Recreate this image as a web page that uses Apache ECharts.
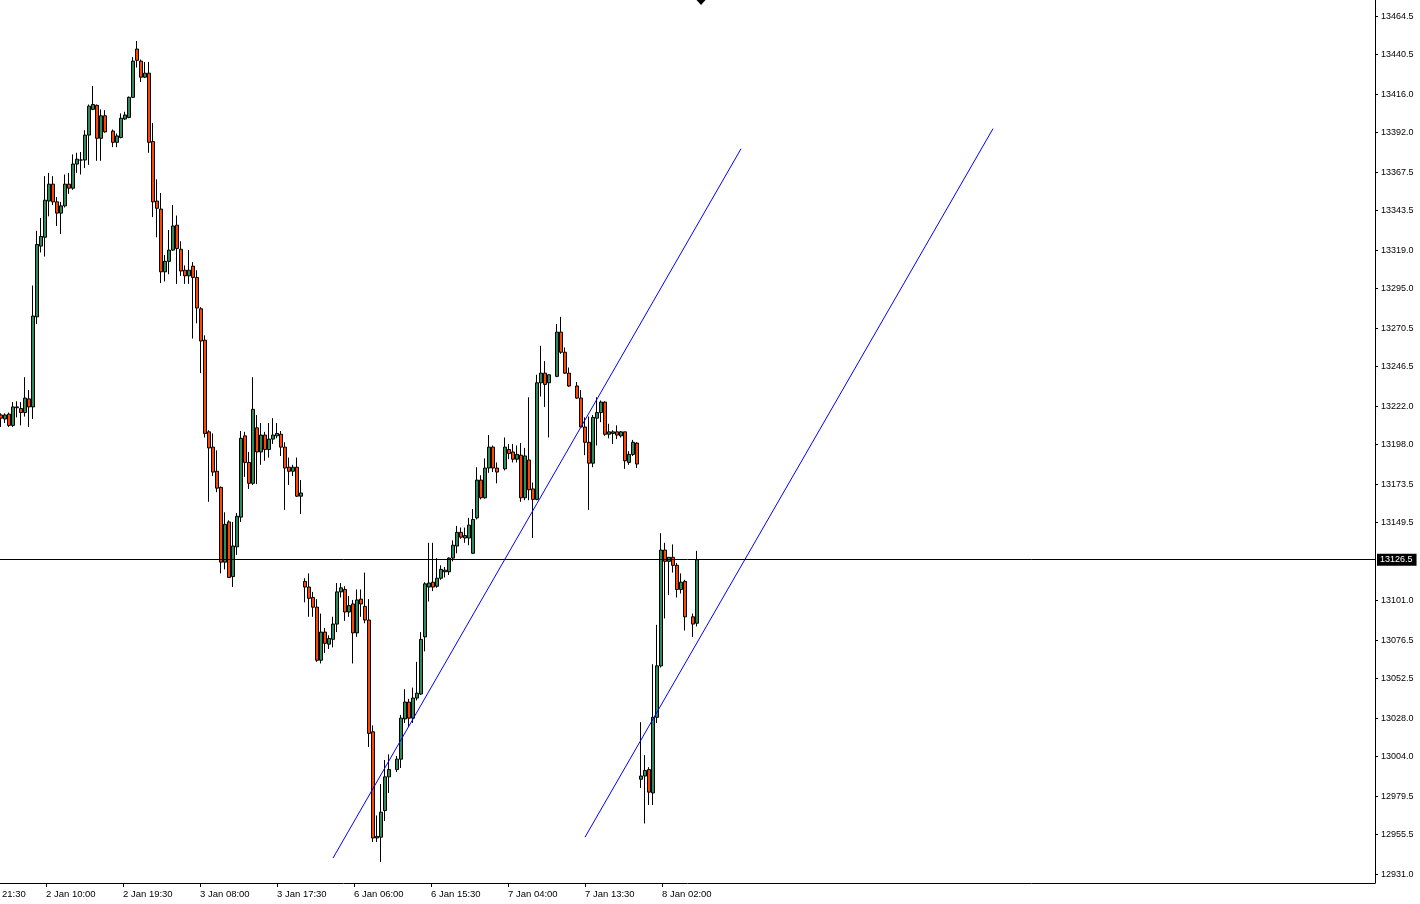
<!DOCTYPE html>
<html><head><meta charset="utf-8">
<script src="https://cdn.jsdelivr.net/npm/echarts@6/dist/echarts.min.js"></script>
<style>html,body{margin:0;padding:0;background:#fff}#c{width:1420px;height:904px}</style>
</head><body><div id="c"></div>
<script>
// OHLC bars: [open, close, low, high]
const candlesWeek1 = [
[13216.5,13214.5,13209,13217.5],[13214,13216.5,13211.5,13217.5],[13217,13210,13209,13218],[13210,13221.5,13209,13224.5],
[13221.5,13221,13215,13225],[13220.5,13218,13210,13224.5],[13218,13227,13215.5,13240],[13226.5,13221.5,13209,13232],
[13221.5,13278,13214,13297],[13277.5,13322.5,13273,13331],[13321.5,13327.5,13317.5,13339],[13327,13350,13315,13365],
[13349.5,13360,13340,13367],[13360,13349,13347,13365],[13349,13342,13334,13352],[13342,13346.5,13329,13349],
[13346.5,13360,13345.5,13366],[13360,13357.5,13354,13367],[13357.5,13372.5,13356.5,13378.5],[13372.5,13375.5,13367,13379.5],
[13375,13375,13366,13380],[13375,13390.5,13370,13393.5],[13390.5,13408.5,13372,13409.5],[13406.5,13409.5,13406,13421],
[13409,13388.5,13374.5,13409.5],[13388.5,13402.5,13374.5,13406.5],[13402.5,13392.5,13392,13406],[13393,13386,13383,13394],
[13386,13390,13383,13391.5],[13389,13401,13388.5,13404],[13400.5,13403,13400,13405],[13401.5,13414,13401,13414.5],
[13414,13436.5,13413.5,13439],[13444,13437,13432.5,13449],[13436.5,13426.5,13423.5,13437.5],[13426.5,13429,13426,13436],
[13429,13386,13379.5,13436],[13386.5,13349,13339.5,13398],[13349.5,13345,13327,13363],[13344.5,13305.5,13298.5,13354.5],
[13305.5,13312,13299.5,13316],[13312,13319,13304,13331.5],[13319,13334,13318.5,13347],[13334.5,13320,13298,13340.5],
[13319.5,13306,13303,13324.5],[13306.5,13303,13298,13309.5],[13303,13306.5,13298,13319],[13309,13302,13264,13311.5],
[13302,13283,13273.5,13306.5],[13282.5,13262.5,13242.5,13283.5],[13263,13205,13202.5,13266],[13206,13196,13162.5,13207],
[13196.5,13181,13178.5,13205],[13181.5,13171,13168.5,13194.5],[13171.5,13125,13118,13172],[13125,13148.5,13120.5,13156],
[13150,13115.5,13115.5,13151],[13116,13135,13109.5,13150],[13134.5,13153.5,13129.5,13155.5],[13153,13202,13150,13206.5],
[13203.5,13187,13178,13206],[13187,13174,13170.5,13193.5],[13174,13220,13173,13240],[13208.5,13193.5,13173.5,13216.5],
[13193.5,13204,13185.5,13211.5],[13204,13195,13188,13206],[13195,13201.5,13190,13211.5],[13201.5,13204,13198.5,13214.5],
[13203.5,13205,13202,13211.5],[13204.5,13196.5,13191,13206.5],[13196.5,13183.5,13157.5,13199.5],[13184,13181.5,13173,13190],
[13181.5,13184,13178.5,13185.5],[13184,13166,13165.5,13190],[13166,13168,13155,13176]
];
const candlesWeek2 = [
[13113,13109.5,13100,13115],[13109.5,13102.5,13091,13118],[13103,13097,13091,13106.5],[13097,13064,13063,13102],
[13064,13081.5,13062,13093],[13081.5,13074.5,13068.5,13084],[13074,13077.5,13071,13079.5],[13077,13086.5,13072,13091],
[13086.5,13106.5,13081.5,13112],[13106.5,13109,13103,13112],[13108,13094,13088.5,13110],[13094,13098,13091,13104],
[13099,13081,13062,13101.5],[13081,13101.5,13078.5,13108],[13102,13099,13091,13108],[13097.5,13089,13087,13118.5],
[13089,13018.5,13010,13102],[13019.5,12953.5,12951,13023.5],[12953.5,12954.5,12951,12967.5],[12954,12969.5,12938.5,12987],
[12970.5,12991.5,12964,13002],[12991.5,12996,12981.5,13005.5],[12996,13002.5,12994.5,13004.5],[13002.5,13028,12997,13030],
[13027.5,13038,13025,13046],[13038,13028,13022.5,13040],[13028,13040.5,13025,13047],[13040.5,13043.5,13039,13063],
[13043,13077,13042.5,13081.5],[13078.5,13111.5,13069.5,13112.5],[13109.5,13112,13100.5,13137],[13112.5,13109.5,13107,13137],
[13110,13115,13109,13127.5],[13115,13120.5,13114,13123],[13119,13120,13115.5,13122],[13119,13127.5,13117,13128],
[13127.5,13135.5,13125.5,13138.5],[13135,13143.5,13130.5,13147.5],[13143.5,13140.5,13139.5,13146.5],[13140,13141.5,13137,13146.5],
[13140,13148,13135.5,13152.5],[13130.5,13151.5,13130,13158],[13152.5,13176,13151.5,13184],[13176,13165,13164,13179],
[13165,13183.5,13164.5,13189.5],[13183.5,13196.5,13180.5,13204],[13196.5,13183.5,13181,13197.5],[13183.5,13181,13174,13187],
[13183,13196.5,13182,13202.5],[13195,13192.5,13189,13198.5],[13193.5,13189,13187,13198.5],[13189,13192,13187,13197.5],
[13191.5,13165,13162.5,13199],[13165,13191,13163.5,13196],[13188.5,13170,13163.5,13227.5],[13170.5,13164,13140,13174.5],
[13164,13236.5,13163.5,13241.5],[13236.5,13242.5,13228,13259.5],[13242.5,13235.5,13221.5,13250],[13236.5,13241.5,13202.5,13241.5],
[13240.5,13268,13240,13273],[13268,13255.5,13254.5,13277.5],[13255.5,13242.5,13242,13258.5],[13242.5,13234.5,13234,13246],
[13234.5,13227,13226.5,13237],[13227,13209,13208.5,13232],[13209,13199.5,13191.5,13215],[13199.5,13186.5,13157.5,13215.5],
[13186.5,13215,13184,13216.5],[13214.5,13218,13197.5,13227.5],[13218,13224.5,13212,13225.5],[13224.5,13204.5,13203.5,13225],
[13204.5,13206,13202,13211],[13205,13206,13198.5,13207],[13206,13204,13201.5,13210],[13203.5,13206,13202.5,13206.5],
[13206,13188,13183,13206],[13187,13192,13185.5,13194],[13192,13199.5,13191,13201],[13199,13186,13183.5,13199.5]
];
const candlesJan8 = [
[12990,12992,12984.5,13025.5],[12992,12995.5,12962.5,13005],[12996,12982,12974,12997.5],[12981.5,13028.5,12974,13061.5],
[13028.5,13060.5,13025,13086],[13060.5,13132.5,13059.5,13143],[13132.5,13125.5,13090,13137],[13125.5,13128,13104.5,13128],
[13128,13123,13118.5,13136],[13123,13108,13103,13124.5],[13108,13112.5,13105.5,13118],[13113,13091,13082.5,13114],
[13091,13086.5,13078.5,13093],[13087,13126.5,13085,13132]
];
// bar slots that hold no bar
const emptySlots = [27, 98, 125, 138, 143, 172];
// time axis labels (slot position, text)
const xTicks = [
  {slot: 11.25, text: '2 Jan 10:00'}, {slot: 30.5, text: '2 Jan 19:30'}, {slot: 49.75, text: '3 Jan 08:00'},
  {slot: 69, text: '3 Jan 17:30'}, {slot: 88.25, text: '6 Jan 06:00'}, {slot: 107.5, text: '6 Jan 15:30'},
  {slot: 126.75, text: '7 Jan 04:00'}, {slot: 146, text: '7 Jan 13:30'}, {slot: 165.25, text: '8 Jan 02:00'}
];
const cutLabel = '21:30';
const yTicks = [13464.5,13440.5,13416.0,13392.0,13367.5,13343.5,13319.0,13295.0,13270.5,13246.5,13222.0,13198.0,
  13173.5,13149.5,13101.0,13076.5,13052.5,13028.0,13004.0,12979.5,12955.5,12931.0];
const lastPrice = 13126.5;
const trendLines = [
  [[83, 12941], [185, 13382]],
  [[146, 12954], [248, 13394.5]]
];
const shiftSlot = 175;
const yMin = 12925.5, yMax = 13474.5;
const xMin = -0.25, xMax = 343.5;

const allBars = candlesWeek1.concat(candlesWeek2, candlesJan8);
const seriesData = [];
let s = 0;
allBars.forEach(b => { while (emptySlots.includes(s)) s++; seriesData.push([s, b[0], b[1], b[2], b[3]]); s++; });

const FONT = 'Liberation Sans';
const chart = echarts.init(document.getElementById('c'));
chart.setOption({
  animation: false,
  backgroundColor: '#ffffff',
  grid: {left: 0, right: 45, top: 0, bottom: 21},
  xAxis: {
    type: 'value', min: xMin, max: xMax,
    axisLine: {show: true, onZero: false, lineStyle: {color: '#000', width: 1}},
    axisTick: {show: true, customValues: xTicks.map(t => t.slot), length: 4, lineStyle: {color: '#000'}},
    axisLabel: {customValues: xTicks.map(t => t.slot), align: 'left', margin: 6, color: '#000',
      fontFamily: FONT, fontSize: 9.5,
      formatter: v => { const t = xTicks.find(k => Math.abs(k.slot - v) < 1e-6); return t ? t.text : ''; }},
    splitLine: {show: false}
  },
  yAxis: {
    type: 'value', position: 'right', min: yMin, max: yMax, scale: true,
    axisLine: {show: true, onZero: false, lineStyle: {color: '#000', width: 1}},
    axisTick: {show: true, customValues: yTicks, length: 3, lineStyle: {color: '#000'}},
    axisLabel: {customValues: yTicks, margin: 6, color: '#000', fontFamily: FONT, fontSize: 9,
      formatter: v => v.toFixed(1)},
    splitLine: {show: false}
  },
  graphic: [{type: 'text', left: 2, top: 889, style: {text: cutLabel, fill: '#000', font: '9.5px "Liberation Sans"'}}],
  series: [
    {
      type: 'candlestick',
      data: seriesData,
      encode: {x: 0, y: [1, 2, 3, 4]},
      barWidth: 3,
      itemStyle: {color: '#2e8b57', color0: '#ff4500', borderColor: '#000', borderColor0: '#000', borderWidth: 1},
      markLine: {
        silent: true, symbol: ['none', 'none'], animation: false,
        data: [{yAxis: lastPrice}],
        lineStyle: {color: '#000', width: 1, type: 'solid'},
        label: {show: true, position: 'end', distance: 2, formatter: lastPrice.toFixed(1),
          backgroundColor: '#000', color: '#fff', padding: [2, 4, 1, 3], fontFamily: FONT, fontSize: 9}
      },
      markPoint: {
        silent: true, label: {show: false},
        data: [{coord: [shiftSlot, yMax], symbol: 'diamond', symbolSize: [9, 10], itemStyle: {color: '#000'}}]
      }
    },
    ...trendLines.map(l => ({
      type: 'line', data: l, showSymbol: false, symbol: 'none', silent: true,
      lineStyle: {color: '#0000ff', width: 1}, z: 3
    }))
  ]
});
</script></body></html>
